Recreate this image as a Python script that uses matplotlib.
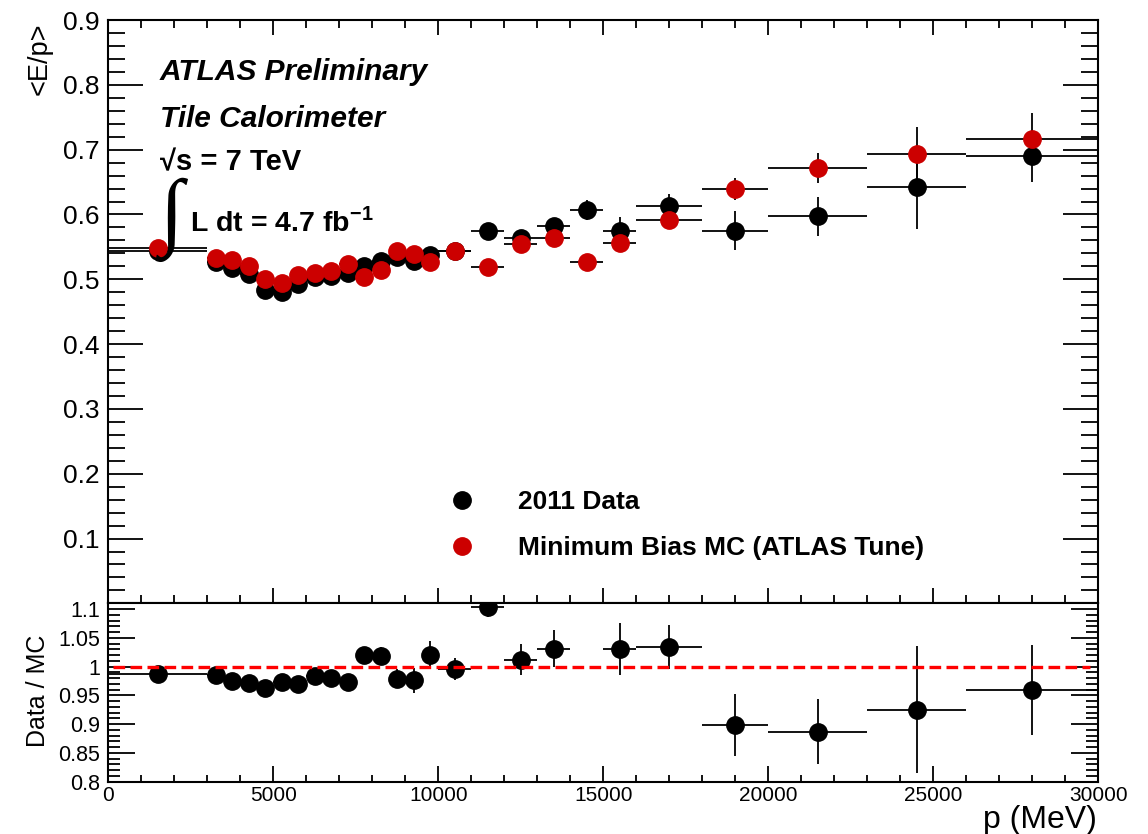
import numpy as np
import matplotlib
matplotlib.use('Agg')
import matplotlib.pyplot as plt
import matplotlib.lines as mlines
from matplotlib.ticker import MultipleLocator

plt.rcParams['font.family'] = ['Liberation Sans', 'DejaVu Sans']
plt.rcParams['mathtext.fontset'] = 'custom'
plt.rcParams['mathtext.rm'] = 'Liberation Sans'
plt.rcParams['mathtext.bf'] = 'Liberation Sans:bold'

#### data ####
p_centre = [1500, 3250, 3750, 4250, 4750, 5250, 5750, 6250, 6750, 7250, 7750, 8250, 8750,
            9250, 9750, 10500, 11500, 12500, 13500, 14500, 15500, 17000, 19000, 21500,
            24500, 28000]
p_halfwidth = [1500, 250, 250, 250, 250, 250, 250, 250, 250, 250, 250, 250, 250,
               250, 250, 500, 500, 500, 500, 500, 500, 1000, 1000, 1500, 1500, 2000]

ep_data = [0.543, 0.527, 0.517, 0.508, 0.483, 0.481, 0.492, 0.503, 0.505, 0.510, 0.520, 0.528,
           0.535, 0.528, 0.538, 0.544, 0.575, 0.563, 0.582, 0.607, 0.575, 0.613, 0.575, 0.597,
           0.642, 0.690]
ep_data_err = [0.002, 0.002, 0.002, 0.002, 0.002, 0.002, 0.002, 0.002, 0.002, 0.003, 0.003, 0.003,
               0.003, 0.004, 0.004, 0.004, 0.006, 0.006, 0.008, 0.016, 0.021, 0.018, 0.030, 0.030,
               0.065, 0.040]

ep_mc = [0.549, 0.533, 0.529, 0.520, 0.501, 0.495, 0.506, 0.509, 0.513, 0.524, 0.504, 0.515,
         0.543, 0.539, 0.526, 0.544, 0.519, 0.555, 0.564, 0.527, 0.556, 0.591, 0.640, 0.672,
         0.693, 0.716]
ep_mc_err = [0.001, 0.001, 0.001, 0.001, 0.001, 0.001, 0.001, 0.001, 0.001, 0.002, 0.002, 0.002,
             0.002, 0.002, 0.002, 0.003, 0.003, 0.004, 0.005, 0.005, 0.006, 0.006, 0.017, 0.023,
             0.042, 0.040]

ratio = [0.988, 0.986, 0.975, 0.971, 0.962, 0.974, 0.970, 0.984, 0.981, 0.974, 1.021, 1.018,
         0.979, 0.976, 1.021, 0.996, 1.103, 1.012, 1.031, 1.152, 1.031, 1.034, 0.898, 0.887,
         0.925, 0.960]
ratio_err = [0.004, 0.005, 0.005, 0.005, 0.005, 0.005, 0.006, 0.006, 0.007, 0.008, 0.010, 0.016,
             0.016, 0.022, 0.023, 0.019, 0.017, 0.027, 0.032, 0.035, 0.045, 0.039, 0.054, 0.056,
             0.110, 0.078]

red = '#cc0000'

fig = plt.figure(figsize=(11.48, 8.34), dpi=100)
ax = fig.add_axes([0.0943, 0.2773, 0.8624, 0.6987])
axr = fig.add_axes([0.0943, 0.0627, 0.8624, 0.2146], sharex=ax)

##### top panel ########
ax.errorbar(p_centre, ep_data, xerr=p_halfwidth, yerr=ep_data_err, fmt='o', color='black',
            ms=12.5, elinewidth=1.3, capsize=0, zorder=3)
ax.errorbar(p_centre, ep_mc, xerr=p_halfwidth, yerr=ep_mc_err, fmt='o', mfc=red, mec=red,
            ecolor='black', ms=12.5, elinewidth=1.3, capsize=0, zorder=4)
ax.set_xlim(0, 30000)
ax.set_ylim(0.001, 0.9)
ax.set_yticks(np.arange(0.1, 0.91, 0.1))
ax.yaxis.set_minor_locator(MultipleLocator(0.02))
ax.xaxis.set_major_locator(MultipleLocator(5000))
ax.xaxis.set_minor_locator(MultipleLocator(1000))
ax.tick_params(axis='x', which='both', direction='in', top=True, bottom=True, labelbottom=False)
ax.tick_params(axis='x', which='major', length=11, width=1.3)
ax.tick_params(axis='x', which='minor', length=6, width=1.3)
ax.tick_params(axis='y', which='both', direction='in', left=True, right=True, labelsize=19, pad=6)
ax.tick_params(axis='y', which='major', length=25, width=1.3)
ax.tick_params(axis='y', which='minor', length=12.5, width=1.3)

##### ratio panel ########
axr.errorbar(p_centre, ratio, xerr=p_halfwidth, yerr=ratio_err, fmt='o', color='black',
             ms=12.5, elinewidth=1.3, capsize=0, zorder=3)
axr.axhline(1.0, xmin=0.005, xmax=0.992, color='#ff0000', lw=2.4, dashes=(3.5, 1.6), zorder=4)
axr.set_ylim(0.8, 1.111)
axr.set_yticks([0.8, 0.85, 0.9, 0.95, 1.0, 1.05, 1.1])
axr.set_yticklabels(['0.8', '0.85', '0.9', '0.95', '1', '1.05', '1.1'])
axr.yaxis.set_minor_locator(MultipleLocator(0.01))
axr.set_xticks(np.arange(0, 30001, 5000))
axr.tick_params(axis='x', which='both', direction='in', top=False, bottom=True, labelsize=15, pad=3)
axr.tick_params(axis='x', which='major', length=11.5, width=1.3)
axr.tick_params(axis='x', which='minor', length=5, width=1.3)
axr.tick_params(axis='y', which='both', direction='in', left=True, right=True, labelsize=15.5, pad=6)
axr.tick_params(axis='y', which='major', length=19.5, width=1.3)
axr.tick_params(axis='y', which='minor', length=8.5, width=1.3)

for a in (ax, axr):
    for s in a.spines.values():
        s.set_linewidth(1.5)

fig.text(0.0348, 0.9736, '<E/p>', rotation=90, ha='center', va='top', fontsize=19.5)
fig.text(0.0331, 0.172, 'Data / MC', rotation=90, ha='center', va='center', fontsize=18)
fig.text(0.9553, 0.0168, 'p (MeV)', ha='right', va='center', fontsize=23)

# labels
fig.text(0.1394, 0.904, 'ATLAS Preliminary', fontsize=21.5, fontweight='bold', fontstyle='italic')
fig.text(0.1394, 0.8475, 'Tile Calorimeter', fontsize=21.5, fontweight='bold', fontstyle='italic')
fig.text(0.1394, 0.7953, '\u221as = 7 TeV', fontsize=21, fontweight='bold')
fig.text(0.1495, 0.7368, '\u222b', fontsize=62, ha='center', va='center', family='Liberation Serif')
fig.text(0.1655, 0.7222, r'L dt = 4.7 fb$^{\mathbf{-1}}$', fontsize=20.5, fontweight='bold')

data_h = mlines.Line2D([], [], color='black', marker='o', ls='none', ms=12.5, label='2011 Data')
mc_h = mlines.Line2D([], [], color=red, marker='o', ls='none', ms=12.5,
                     label='Minimum Bias MC (ATLAS Tune)')
ax.legend(handles=[data_h, mc_h], loc='upper left', bbox_to_anchor=(0.344, 0.1934),
          frameon=False, prop={'size': 19, 'weight': 'bold'}, handlelength=1.0,
          handletextpad=1.62, labelspacing=0.83, borderpad=0, borderaxespad=0)

fig.savefig('out.png', dpi=100)
